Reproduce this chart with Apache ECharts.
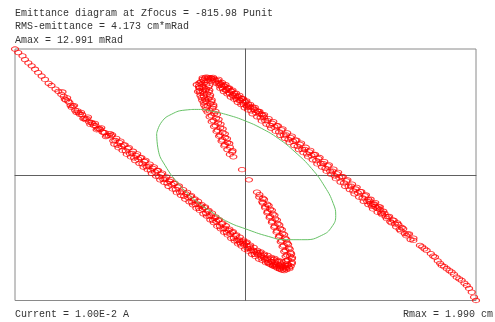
<!DOCTYPE html>
<html>
<head>
<meta charset="utf-8">
<script src="https://cdn.jsdelivr.net/npm/echarts@6/dist/echarts.min.js"></script>
<style>
  html, body { margin: 0; padding: 0; background: #ffffff; }
  #chart { width: 495px; height: 322px; }
</style>
</head>
<body>
<div id="chart"></div>
<script>
// Phase-space extent (x in cm, x' in mRad)
const RMAX = 1.990;
const AMAX = 12.991;

const headerLines = [
  'Emittance diagram at Zfocus = -815.98 Punit',
  'RMS-emittance = 4.173 cm*mRad',
  'Amax = 12.991 mRad'
];
const footerLeft = 'Current = 1.00E-2 A';
const footerRight = 'Rmax = 1.990 cm';

// Particles on the branch running from the upper-left corner into the lower hook
const lowerBranch = [
  [-1.990,12.99],[-1.962,12.62],[-1.925,12.28],[-1.904,11.90],[-1.875,11.55],[-1.846,11.25],[-1.817,10.90],
  [-1.790,10.55],[-1.760,10.20],[-1.731,9.85],[-1.700,9.45],[-1.675,9.22],[-1.640,8.85],[-1.616,8.62],
  [-1.590,8.30],[-1.570,8.10],[-1.550,7.70],[-1.530,7.60],[-1.520,7.45],[-1.510,7.15],[-1.490,7.10],
  [-1.470,6.65],[-1.450,6.60],[-1.440,6.40],[-1.430,6.25],[-1.410,6.20],[-1.390,5.85],[-1.380,5.70],
  [-1.370,5.80],[-1.350,5.45],[-1.330,5.40],[-1.320,5.28],[-1.310,5.10],[-1.295,5.05],[-1.275,4.75],
  [-1.265,4.80],[-1.255,4.70],[-1.235,4.42],[-1.225,4.35],[-1.215,4.35],[-1.195,4.05],[-1.180,4.06],
  [-1.580,8.55],[-1.560,7.80],[-1.540,7.95],[-1.500,6.95],[-1.480,7.15],[-1.460,6.45],[-1.420,6.45],
  [-1.400,5.80],[-1.360,5.95],[-1.340,5.20],[-1.300,5.30],[-1.285,4.65],[-1.245,4.85],[-1.205,3.95],
  [-1.170,4.25],
  [-1.160,4.02],[-1.142,3.50],[-1.124,3.54],[-1.106,3.07],[-1.088,3.31],[-1.070,2.94],[-1.052,3.07],
  [-1.034,2.46],[-1.016,2.69],[-0.998,2.18],[-0.980,2.21],[-0.962,1.75],[-0.944,1.98],[-0.926,1.61],
  [-0.908,1.75],[-0.890,1.13],[-0.872,1.37],[-0.854,0.85],[-0.836,0.89],[-0.818,0.42],[-0.800,0.66],
  [-0.782,0.29],[-0.764,0.42],[-0.746,-0.19],[-0.728,0.04],[-0.710,-0.47],[-0.692,-0.44],[-0.674,-0.90],
  [-0.656,-0.67],[-0.638,-1.03],[-0.620,-0.90],[-0.602,-1.52],[-0.584,-1.28],[-0.566,-1.80],[-0.548,-1.76],
  [-0.530,-2.23],[-0.512,-1.99],[-0.494,-2.36],
  [-1.151,4.13],[-1.133,3.17],[-1.115,3.75],[-1.097,2.79],[-1.079,3.47],[-1.061,2.51],[-1.043,3.09],
  [-1.025,2.13],[-1.007,2.81],[-0.989,1.84],[-0.971,2.43],[-0.953,1.46],[-0.935,2.15],[-0.917,1.18],
  [-0.899,1.77],[-0.881,0.80],[-0.863,1.49],[-0.845,0.52],[-0.827,1.10],[-0.809,0.14],[-0.791,0.82],
  [-0.773,-0.14],[-0.755,0.44],[-0.737,-0.52],[-0.719,0.16],[-0.701,-0.80],[-0.683,-0.22],[-0.665,-1.19],
  [-0.647,-0.50],[-0.629,-1.47],[-0.611,-0.88],[-0.593,-1.85],[-0.575,-1.16],[-0.557,-2.13],[-0.539,-1.54],
  [-0.521,-2.51],[-0.503,-1.82],[-0.485,-2.79],
  [-0.476,-2.24],[-0.461,-2.83],[-0.446,-2.58],[-0.431,-3.07],[-0.416,-3.02],[-0.401,-3.46],[-0.386,-3.21],
  [-0.371,-3.55],[-0.356,-3.40],[-0.341,-3.99],[-0.326,-3.75],[-0.311,-4.27],[-0.296,-4.24],[-0.281,-4.70],
  [-0.266,-4.47],[-0.251,-4.84],[-0.236,-4.70],[-0.221,-5.31],[-0.206,-5.07],[-0.191,-5.58],[-0.176,-5.54],
  [-0.161,-5.99],[-0.146,-5.75],[-0.131,-6.10],[-0.116,-5.95],[-0.101,-6.55],[-0.086,-6.30],[-0.071,-6.79],
  [-0.056,-6.72],[-0.041,-7.15],[-0.026,-6.89],[-0.011,-7.22],[0.004,-7.05],[0.019,-7.63],[0.034,-7.37],
  [0.049,-7.85],[0.064,-7.79],[0.079,-8.22],[0.094,-7.96],[0.109,-8.26],[0.124,-8.06],[0.139,-8.60],
  [0.154,-8.30],[0.169,-8.75],[0.184,-8.64],[0.199,-9.02],[0.214,-8.70],[0.229,-8.97],[0.244,-8.75],
  [0.259,-9.28],[0.274,-8.96],[0.289,-9.39],[0.304,-9.26],
  [-0.469,-2.16],[-0.454,-3.10],[-0.439,-2.50],[-0.424,-3.45],[-0.409,-2.74],[-0.394,-3.69],[-0.379,-3.08],
  [-0.364,-4.03],[-0.349,-3.32],[-0.334,-4.27],[-0.319,-3.69],[-0.304,-4.65],[-0.289,-3.97],[-0.274,-4.94],
  [-0.259,-4.35],[-0.244,-5.32],[-0.229,-4.63],[-0.214,-5.59],[-0.199,-5.00],[-0.184,-5.96],[-0.169,-5.27],
  [-0.154,-6.22],[-0.139,-5.62],[-0.124,-6.57],[-0.109,-5.87],[-0.094,-6.82],[-0.079,-6.22],[-0.064,-7.15],
  [-0.049,-6.44],[-0.034,-7.37],[-0.019,-6.75],[-0.004,-7.69],[0.011,-6.96],[0.026,-7.90],[0.041,-7.28],
  [0.056,-8.22],[0.071,-7.50],[0.086,-8.44],[0.101,-7.81],[0.116,-8.71],[0.131,-7.96],[0.146,-8.85],
  [0.161,-8.20],[0.176,-9.09],[0.191,-8.33],[0.206,-9.21],[0.221,-8.54],[0.236,-9.41],[0.251,-8.64],
  [0.266,-9.52],[0.281,-8.85],[0.296,-9.72],[0.311,-8.94],
  [-0.050,-6.95],[-0.020,-7.10],[0.010,-7.30],[0.040,-7.60],[0.070,-7.90],[0.100,-8.10],[0.130,-8.35],
  [0.160,-8.55],[0.190,-8.80],[0.220,-8.95],[0.250,-9.10],[0.280,-9.20],[0.300,-9.45],[0.320,-9.50],
  [0.390,-9.45],[0.375,-9.60],[0.355,-9.80],[0.335,-9.90],[0.315,-9.85],[0.295,-9.75],[0.275,-9.65],
  [0.255,-9.50],[0.235,-9.40],[0.215,-9.25],[0.195,-9.10],[0.345,-9.55],[0.325,-9.60],[0.305,-9.50],
  [0.360,-9.20],[0.350,-8.90],[0.385,-8.40],
  [0.370,-9.30],[0.400,-9.05],[0.366,-8.80],[0.402,-8.55],[0.359,-8.30],[0.388,-8.05],[0.345,-7.80],
  [0.374,-7.55],[0.330,-7.30],[0.358,-7.05],[0.313,-6.80],[0.341,-6.55],[0.295,-6.30],[0.320,-6.05],
  [0.274,-5.80],[0.299,-5.55],[0.253,-5.30],[0.278,-5.05],[0.232,-4.80],[0.257,-4.55],[0.212,-4.30],
  [0.236,-4.05],[0.192,-3.80],[0.213,-3.55],[0.170,-3.30],[0.188,-3.05],[0.145,-2.80],[0.160,-2.55],
  [0.118,-2.30],[0.120,-2.05],[0.099,-1.80],
  [0.150,-2.43],[0.150,-2.93],[0.200,-3.18],[0.170,-3.43],[0.228,-3.68],[0.188,-3.93],[0.250,-4.18],
  [0.208,-4.43],[0.272,-4.68],[0.228,-4.93],[0.292,-5.18],[0.248,-5.43],[0.314,-5.68],[0.268,-5.93],
  [0.334,-6.18],[0.288,-6.43],[0.352,-6.68],[0.304,-6.93],[0.368,-7.18],[0.320,-7.43],[0.382,-7.68],
  [0.334,-7.93],[0.394,-8.18],[0.346,-8.43],[0.400,-8.68],[0.352,-8.93],[0.400,-9.18],[0.340,-9.35],
  [0.380,-9.70],[0.365,-9.40],[0.330,-9.75],[0.300,-9.62],[0.270,-9.45],[0.245,-9.30],[0.350,-9.65]
];

// Particles on the branch running from the upper hook to the lower-right corner
const upperBranch = [
  [-0.105,1.85],[-0.135,2.10],[-0.115,2.35],[-0.157,2.60],[-0.135,2.85],[-0.177,3.10],[-0.156,3.35],
  [-0.198,3.60],[-0.177,3.85],[-0.219,4.10],[-0.197,4.35],[-0.240,4.60],[-0.217,4.85],[-0.259,5.10],
  [-0.236,5.35],[-0.277,5.60],[-0.253,5.85],[-0.293,6.10],[-0.269,6.35],[-0.310,6.60],[-0.286,6.85],
  [-0.328,7.10],[-0.304,7.35],[-0.345,7.60],[-0.320,7.85],[-0.360,8.10],[-0.332,8.35],[-0.368,8.60],
  [-0.341,8.85],[-0.373,9.10],[-0.338,9.35],
  [-0.112,2.48],[-0.183,2.98],[-0.140,3.23],[-0.207,3.48],[-0.160,3.73],[-0.228,3.98],[-0.178,4.23],
  [-0.250,4.48],[-0.197,4.73],[-0.272,4.98],[-0.215,5.23],[-0.292,5.48],[-0.232,5.73],[-0.310,5.98],
  [-0.246,6.23],[-0.328,6.48],[-0.345,6.98],[-0.278,7.23],[-0.362,7.48],[-0.292,7.73],[-0.380,7.98],
  [-0.305,8.23],[-0.392,8.48],[-0.312,8.73],[-0.400,8.98],[-0.313,9.23],[-0.398,9.48],[-0.360,9.70],
  [-0.318,9.95],[-0.340,10.08],[-0.295,9.95],[-0.265,9.80],[-0.250,9.45],
  [-0.339,6.70],[-0.259,6.55],[-0.357,7.20],[-0.277,7.05],[-0.374,7.70],[-0.294,7.55],[-0.389,8.20],
  [-0.309,8.05],[-0.397,8.70],[-0.317,8.55],[-0.402,9.15],[-0.322,9.05],
  [-0.350,7.80],[-0.335,7.55],[-0.360,8.40],[-0.345,8.70],[-0.362,9.00],[-0.380,9.35],[-0.385,9.60],
  [-0.370,9.85],[-0.350,9.98],[-0.325,10.05],[-0.300,10.02],[-0.275,9.92],[-0.352,9.55],[-0.330,9.75],
  [-0.305,9.85],[-0.285,9.75],[-0.260,9.60],[-0.395,9.00],[-0.421,9.30],[-0.410,8.60],[-0.370,10.00],
  [-0.280,10.05],
  [-0.240,9.73],[-0.225,9.24],[-0.210,9.30],[-0.195,8.86],[-0.180,9.12],[-0.165,8.78],[-0.150,8.94],
  [-0.135,8.35],[-0.120,8.62],[-0.105,8.13],[-0.090,8.19],[-0.075,7.75],[-0.060,8.01],[-0.045,7.67],
  [-0.030,7.83],[-0.015,7.24],[0.000,7.50],[0.015,7.02],[0.030,7.08],[0.050,6.59],[0.070,6.81],
  [0.090,6.42],[0.110,6.54],[0.130,5.90],[0.150,6.12],[0.170,5.58],[0.190,5.59],[0.210,5.11],
  [0.230,5.32],[0.250,4.94],[0.270,5.05],[0.290,4.42],[0.310,4.63],[0.330,4.10],[0.350,4.11],
  [0.370,3.63],[0.390,3.84],[0.410,3.46],[0.430,3.57],[0.450,2.94],[0.470,3.15],[0.490,2.62],
  [0.510,2.63],[0.530,2.15],[0.550,2.36],[0.570,1.98],[0.590,2.09],[0.610,1.46],[0.630,1.67],
  [0.650,1.14],[0.670,1.15],[0.690,0.66],
  [-0.2325,9.86],[-0.2175,8.92],[-0.2025,9.53],[-0.1875,8.59],[-0.1725,9.30],[-0.1575,8.36],[-0.1425,8.97],
  [-0.1275,8.03],[-0.1125,8.75],[-0.0975,7.81],[-0.0825,8.42],[-0.0675,7.48],[-0.0525,8.19],[-0.0375,7.25],
  [-0.0225,7.86],[-0.0075,6.92],[0.0075,7.63],[0.0225,6.70],[0.040,7.28],[0.060,6.30],[0.080,6.96],
  [0.100,5.98],[0.120,6.54],[0.140,5.56],[0.160,6.22],[0.180,5.24],[0.200,5.80],[0.220,4.82],
  [0.240,5.48],[0.260,4.50],[0.280,5.06],[0.300,4.08],[0.320,4.74],[0.340,3.76],[0.360,4.32],
  [0.380,3.34],[0.400,4.00],[0.420,3.02],[0.440,3.58],[0.460,2.60],[0.480,3.26],[0.500,2.28],
  [0.520,2.84],[0.540,1.86],[0.560,2.52],[0.580,1.54],[0.600,2.10],[0.620,1.12],[0.640,1.78],
  [0.660,0.80],[0.680,1.36],[0.700,0.37],
  [-0.232,9.50],[-0.218,9.45],[-0.202,9.05],[-0.188,9.20],[-0.172,8.75],[-0.158,8.95],[-0.142,8.50],
  [-0.128,8.70],[-0.112,8.25],[-0.098,8.40],[-0.082,7.95],[-0.068,8.10],[-0.052,7.70],[-0.038,7.90],
  [-0.022,7.45],[-0.008,7.60],[0.008,7.15],[0.022,7.30],[0.040,6.95],[0.060,7.00],[0.080,6.70],
  [0.100,6.60],[0.120,6.30],[0.140,6.25],[0.160,5.90],
  [0.710,0.92],[0.730,0.38],[0.750,0.38],[0.770,-0.11],[0.790,0.09],[0.810,-0.30],[0.830,-0.20],
  [0.850,-0.84],[0.870,-0.64],[0.890,-1.18],[0.910,-1.18],[0.930,-1.67],[0.950,-1.47],[0.970,-1.86],
  [0.990,-1.75],[1.010,-2.40],[1.030,-2.19],[1.050,-2.74],[1.070,-2.73],[1.090,-3.23],[1.110,-3.02],
  [1.130,-3.42],[1.150,-3.31],
  [0.720,1.02],[0.740,0.03],[0.760,0.59],[0.780,-0.41],[0.800,0.25],[0.820,-0.75],[0.840,-0.19],
  [0.860,-1.19],[0.880,-0.53],[0.900,-1.53],[0.920,-0.97],[0.940,-1.97],[0.960,-1.31],[0.980,-2.31],
  [1.000,-1.75],[1.020,-2.75],[1.040,-2.09],[1.060,-3.08],[1.080,-2.53],[1.100,-3.53],[1.120,-2.87],
  [1.140,-3.87],[1.160,-3.31],
  [1.060,-2.55],[1.080,-2.95],[1.100,-3.05],[1.120,-3.30],[1.140,-3.45],[1.160,-3.60],[1.180,-3.95],
  [1.200,-4.00],
  [1.170,-3.96],[1.190,-3.77],[1.210,-4.33],[1.230,-4.34],[1.250,-4.85],[1.270,-4.66],[1.290,-5.07],
  [1.310,-4.98],[1.330,-5.64],[1.350,-5.45],[1.375,-6.07],[1.400,-6.13],[1.425,-6.69],[1.450,-6.55],
  [1.180,-4.12],[1.220,-4.54],[1.240,-4.30],[1.260,-4.96],[1.280,-4.72],[1.300,-5.38],[1.320,-5.14],
  [1.340,-5.80],[1.362,-5.58],[1.388,-6.30],[1.412,-6.11],
  [1.449,-6.78],[1.506,-7.30],[1.525,-7.45],[1.545,-7.65],[1.564,-7.82],[1.600,-8.15],[1.620,-8.40],
  [1.636,-8.51],[1.660,-8.90],[1.680,-9.15],[1.694,-9.37],[1.715,-9.50],[1.737,-9.71],[1.760,-9.90],
  [1.780,-10.06],[1.800,-10.30],[1.823,-10.58],[1.845,-10.75],[1.866,-10.92],[1.890,-11.20],
  [1.910,-11.44],[1.930,-11.75],[1.953,-12.13],[1.973,-12.65],[1.990,-12.99]
];

// Isolated particles near the centre
const strayParticles = [[-0.030,0.52],[0.030,-0.52]];

// RMS emittance ellipse, traced as a closed contour
const rmsEllipse = [
  [-0.767,4.26],[-0.723,5.47],[-0.637,6.26],[-0.522,6.68],[-0.407,6.75],[-0.292,6.57],[-0.148,6.16],
  [-0.004,5.57],[0.140,4.78],[0.283,3.75],[0.427,2.36],[0.571,0.64],[0.686,-1.26],[0.758,-2.98],
  [0.779,-4.19],[0.744,-5.40],[0.658,-6.26],[0.514,-6.71],[0.341,-6.71],[0.197,-6.37],[-0.004,-5.57],
  [-0.148,-4.89],[-0.292,-3.85],[-0.436,-2.64],[-0.580,-0.91],[-0.695,0.98],[-0.753,2.54],[-0.767,4.26]
];

const FONT = '10px "Courier New", "Liberation Mono", monospace';
const TEXT_COLOR = '#333333';
// Flat, hollow ellipse marker
const MARKER = 'path://M0,1C0,0.4477 0.4477,0 1,0C1.5523,0 2,0.4477 2,1C2,1.5523 1.5523,2 1,2C0.4477,2 0,1.5523 0,1Z';

const particleStyle = {
  type: 'scatter',
  symbol: MARKER,
  symbolSize: [7, 4.5],
  silent: true,
  z: 2,
  itemStyle: { color: 'rgba(255,255,255,0)', borderColor: '#ff0000', borderWidth: 1 }
};

const chart = echarts.init(document.getElementById('chart'), null, { renderer: 'canvas' });
chart.setOption({
  animation: false,
  backgroundColor: '#ffffff',
  grid: {
    left: 15, top: 49, right: 19, bottom: 21.5,
    show: true, borderColor: '#8a8a8a', borderWidth: 1, backgroundColor: 'transparent'
  },
  xAxis: {
    type: 'value', min: -RMAX, max: RMAX,
    axisLine: { show: true, onZero: true, lineStyle: { color: '#606060', width: 1 } },
    axisTick: { show: false }, axisLabel: { show: false }, splitLine: { show: false }
  },
  yAxis: {
    type: 'value', min: -AMAX, max: AMAX,
    axisLine: { show: true, onZero: true, lineStyle: { color: '#606060', width: 1 } },
    axisTick: { show: false }, axisLabel: { show: false }, splitLine: { show: false }
  },
  graphic: [
    { type: 'text', left: 15, top: 8, style: { text: headerLines[0], font: FONT, fill: TEXT_COLOR } },
    { type: 'text', left: 15, top: 21.5, style: { text: headerLines[1], font: FONT, fill: TEXT_COLOR } },
    { type: 'text', left: 15, top: 35.5, style: { text: headerLines[2], font: FONT, fill: TEXT_COLOR } },
    { type: 'text', left: 15, top: 309, style: { text: footerLeft, font: FONT, fill: TEXT_COLOR } },
    { type: 'text', right: 2, top: 309, style: { text: footerRight, font: FONT, fill: TEXT_COLOR } }
  ],
  series: [
    Object.assign({ name: 'lower', data: lowerBranch }, particleStyle),
    Object.assign({ name: 'upper', data: upperBranch }, particleStyle),
    Object.assign({ name: 'stray', data: strayParticles }, particleStyle),
    {
      name: 'ellipse', type: 'line', data: rmsEllipse, smooth: 0.5,
      showSymbol: false, symbol: 'none', silent: true, z: 3,
      lineStyle: { color: '#66c266', width: 1 }
    }
  ]
});
</script>
</body>
</html>
